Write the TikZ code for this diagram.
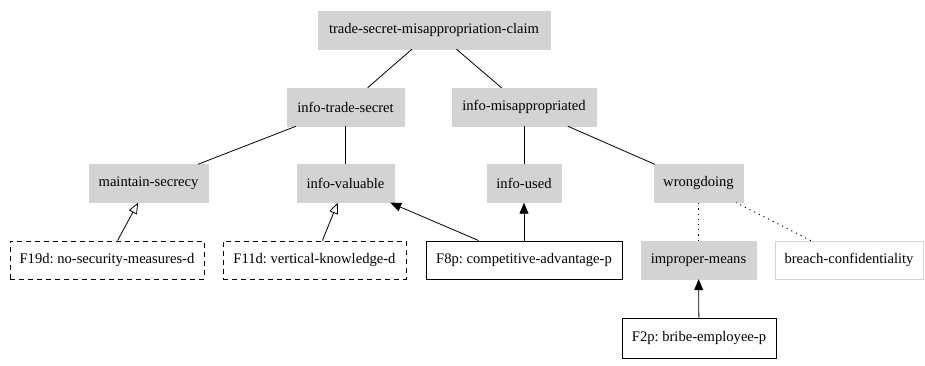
\documentclass[tikz,border=0pt]{standalone}
\usepackage{fontspec}
\setmainfont{Liberation Serif}
\usetikzlibrary{arrows.meta}
\definecolor{nodegray}{RGB}{211,211,211}
\tikzset{
  base/.style={rectangle, inner sep=0pt, minimum height=38pt, font=\fontsize{14.6}{16}\selectfont\frenchspacing},
  issue/.style={base, fill=nodegray, draw=nodegray},
  plainissue/.style={base, fill=white, draw=nodegray, line width=0.8pt},
  factor/.style={base, draw=black, line width=0.9pt},
  dfactor/.style={factor, dash pattern=on 5pt off 4pt},
  link/.style={draw=black, line width=0.8pt},
  dotlink/.style={draw=black, line width=0.9pt, dash pattern=on 1.2pt off 4pt},
  pro/.style={link, -{Triangle[length=11pt, width=9pt]}},
  con/.style={link, -{Triangle[open, length=11pt, width=9pt]}}
}
\begin{document}
\begin{tikzpicture}[x=1pt, y=-1pt]
\useasboundingbox (0,0) rectangle (925,365);
\node[issue, minimum width=232pt] (claim) at (434,30) {trade-secret-misappropriation-claim};
\node[issue, minimum width=117pt] (its) at (345.5,107) {info-trade-secret};
\node[issue, minimum width=144pt] (im) at (524,107) {info-misappropriated};
\node[issue, minimum width=119pt] (ms) at (148.5,183.5) {maintain-secrecy};
\node[issue, minimum width=97pt] (iv) at (345.5,183.5) {info-valuable};
\node[issue, minimum width=74pt] (iu) at (524,183.5) {info-used};
\node[issue, minimum width=89pt] (wd) at (698.5,183.5) {wrongdoing};
\node[dfactor, minimum width=194pt] (f19) at (107,260) {F19d: no-security-measures-d};
\node[dfactor, minimum width=183pt] (f11) at (314.5,260) {F11d: vertical-knowledge-d};
\node[factor, minimum width=196pt] (f8) at (524,260) {F8p: competitive-advantage-p};
\node[issue, minimum width=115pt] (ipm) at (698.5,260) {improper-means};
\node[plainissue, minimum width=148pt] (bc) at (849,260) {breach-confidentiality};
\node[factor, minimum width=154pt, minimum height=40pt] (f2) at (699,338) {F2p: bribe-employee-p};

\draw[link] (its) -- (claim);
\draw[link] (im) -- (claim);
\draw[link] (ms) -- (its);
\draw[link] (iv) -- (its);
\draw[link] (iu) -- (im);
\draw[link] (wd) -- (im);
\draw[dotlink] (ipm) -- (wd);
\draw[dotlink] (bc) -- (wd);
\draw[con] (f19) -- (ms);
\draw[con] (f11) -- (iv);
\draw[pro] (f8) -- (iv);
\draw[pro] (f8) -- (iu);
\draw[pro] (f2) -- (ipm);
\end{tikzpicture}
\end{document}
